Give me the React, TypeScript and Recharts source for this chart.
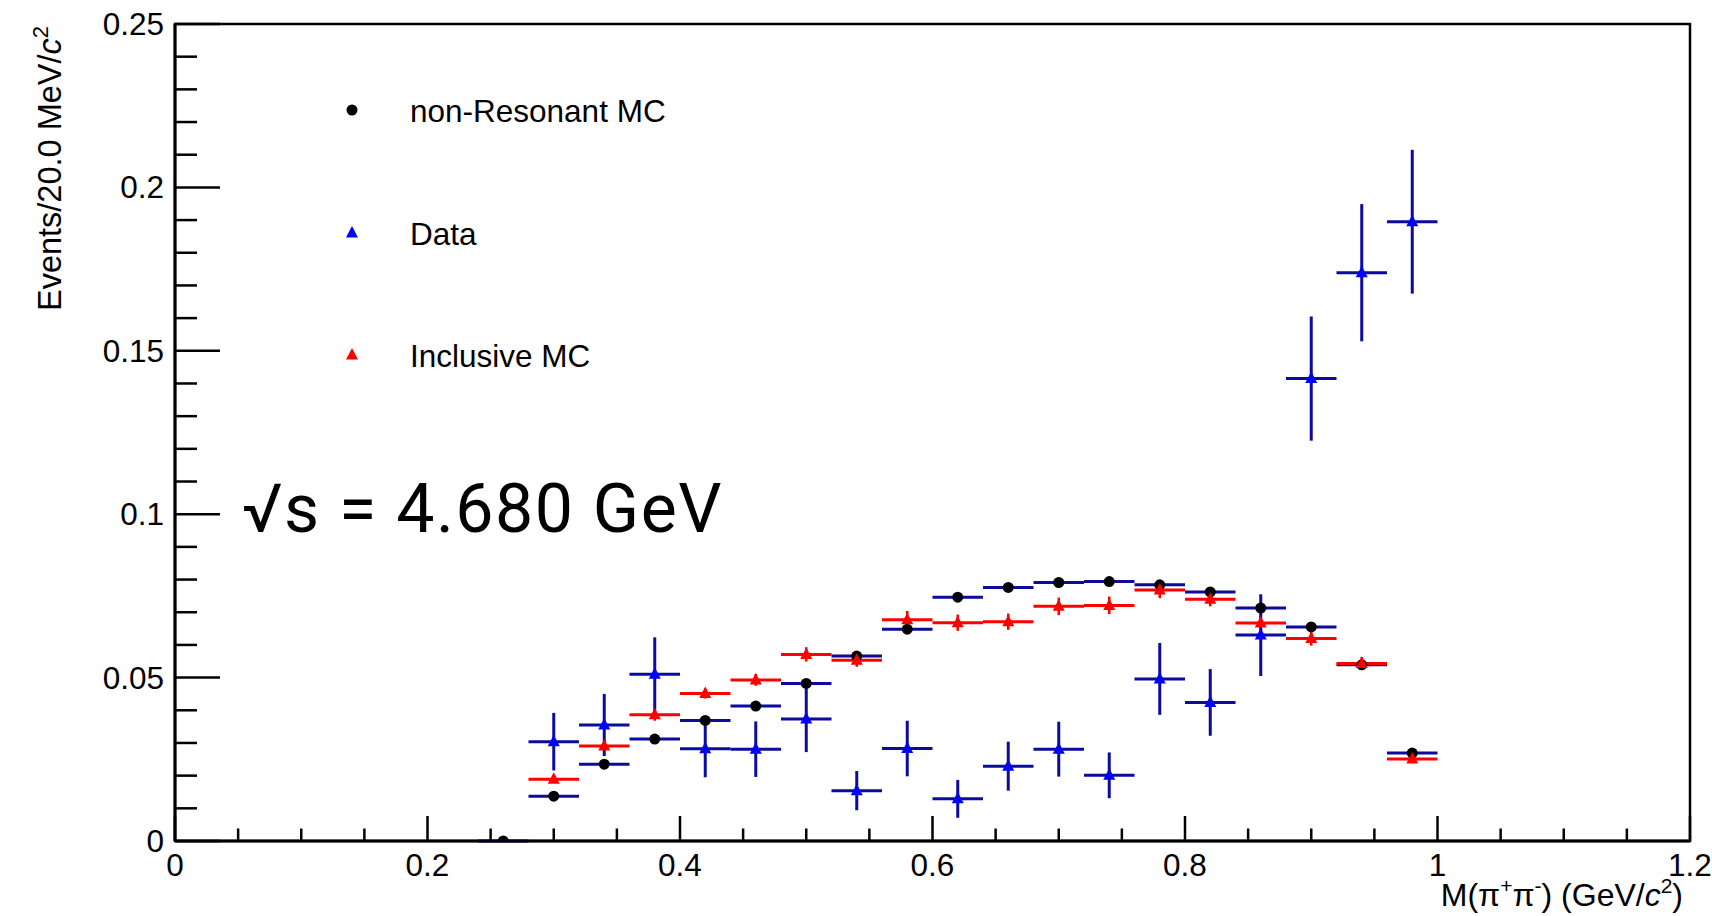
import React from 'react';
import { ComposedChart, Scatter, XAxis, YAxis, ErrorBar, ReferenceArea } from 'recharts';

// ---- data ----
const binCenters = [0.26, 0.30, 0.34, 0.38, 0.42, 0.46, 0.50, 0.54, 0.58, 0.62, 0.66, 0.70, 0.74, 0.78, 0.82, 0.86, 0.90, 0.94, 0.98];
const binHalfWidth = 0.02;
const nonResonantMC = [0, 0.0137, 0.0235, 0.0312, 0.0369, 0.0413, 0.0482, 0.0566, 0.0648, 0.0746, 0.0776, 0.0791, 0.0794, 0.0784, 0.0762, 0.0713, 0.0655, 0.0539, 0.0269];
// data and inclusive MC start at bin 0.30
const dataValues = [0.0304, 0.0355, 0.051, 0.0282, 0.0281, 0.0373, 0.0154, 0.0283, 0.0129, 0.0229, 0.0281, 0.0201, 0.0496, 0.0424, 0.063, 0.1415, 0.1739, 0.1895];
const dataErrors = [0.0088, 0.0095, 0.0113, 0.0087, 0.0085, 0.0101, 0.006, 0.0085, 0.0058, 0.0075, 0.0084, 0.007, 0.011, 0.0102, 0.0125, 0.019, 0.021, 0.022];
const inclusiveMC = [0.0189, 0.0291, 0.0386, 0.0451, 0.0493, 0.0571, 0.0553, 0.0677, 0.0668, 0.0671, 0.0718, 0.0721, 0.0768, 0.074, 0.0667, 0.062, 0.0543, 0.0251];
const inclusiveErrors = [0.001, 0.0015, 0.0018, 0.0015, 0.0018, 0.0022, 0.002, 0.0027, 0.0025, 0.0025, 0.0027, 0.0027, 0.0025, 0.0022, 0.0022, 0.0022, 0.002, 0.001];

const xTicks = [0, 0.05, 0.1, 0.15, 0.2, 0.25, 0.3, 0.35, 0.4, 0.45, 0.5, 0.55, 0.6, 0.65, 0.7, 0.75, 0.8, 0.85, 0.9, 0.95, 1, 1.05, 1.1, 1.15, 1.2];
const xMajorTicks = [0, 0.2, 0.4, 0.6, 0.8, 1, 1.2];
const xTickLabels = ['0', '0.2', '0.4', '0.6', '0.8', '1', '1.2'];
const yTicks = [0, 0.01, 0.02, 0.03, 0.04, 0.05, 0.06, 0.07, 0.08, 0.09, 0.1, 0.11, 0.12, 0.13, 0.14, 0.15, 0.16, 0.17, 0.18, 0.19, 0.2, 0.21, 0.22, 0.23, 0.24, 0.25];
const yMajorTicks = [0, 0.05, 0.1, 0.15, 0.2, 0.25];
const yTickLabels = ['0', '0.05', '0.1', '0.15', '0.2', '0.25'];

const legendLabels = ['non-Resonant MC', 'Data', 'Inclusive MC'];

const nonResSeries = binCenters.map((x, i) => ({ x, y: nonResonantMC[i], ex: binHalfWidth }));
const dataSeries = binCenters.slice(1).map((x, i) => ({ x, y: dataValues[i], ex: binHalfWidth, ey: dataErrors[i] }));
const inclSeries = binCenters.slice(1).map((x, i) => ({ x, y: inclusiveMC[i], ex: binHalfWidth, ey: inclusiveErrors[i] }));

const FONT = '"Liberation Sans", Arial, Helvetica, sans-serif';
const NAVY = '#0b0b9e';

const W = 1712;
const H = 916;

const majorIndex = (v: number, majors: number[]) => majors.findIndex((m) => Math.abs(m - v) < 1e-9);

const XTick = (props: any) => {
  const { x, y, payload } = props;
  const idx = majorIndex(payload.value, xMajorTicks);
  const len = idx >= 0 ? 25 : 12.5;
  return (
    <g>
      <line x1={x} y1={y} x2={x} y2={y - len} stroke="#000" strokeWidth={2.5} />
      {idx >= 0 && (
        <text x={x} y={y + 35} textAnchor="middle" fontFamily={FONT} fontSize={31.5} fill="#000">
          {xTickLabels[idx]}
        </text>
      )}
    </g>
  );
};

const YTick = (props: any) => {
  const { x, y, payload } = props;
  const idx = majorIndex(payload.value, yMajorTicks);
  const len = idx >= 0 ? 45 : 22;
  return (
    <g>
      <line x1={x} y1={y} x2={x + len} y2={y} stroke="#000" strokeWidth={2.5} />
      {idx >= 0 && (
        <text x={x - 11} y={y + 11} textAnchor="end" fontFamily={FONT} fontSize={31.5} fill="#000">
          {yTickLabels[idx]}
        </text>
      )}
    </g>
  );
};

const Dot = (props: any) => {
  const { cx, cy } = props;
  if (cx == null || cy == null) return null;
  return <circle cx={cx} cy={cy} r={5.5} fill="#000" />;
};

const makeTriangle = (color: string) => (props: any) => {
  const { cx, cy } = props;
  if (cx == null || cy == null) return null;
  return <polygon points={`${cx},${cy - 7} ${cx - 6},${cy + 4.5} ${cx + 6},${cy + 4.5}`} fill={color} />;
};

const BlueTri = makeTriangle('#0000ff');
const RedTri = makeTriangle('#ff0000');

export default function App() {
  return (
    <div style={{ position: 'absolute', left: 0, top: 0, width: W, height: H, background: '#fff' }}>
      <ComposedChart width={W} height={H} margin={{ top: 24, right: 22, left: 0, bottom: 0 }}>
        <XAxis
          type="number"
          dataKey="x"
          domain={[0, 1.2]}
          ticks={xTicks}
          interval={0}
          allowDataOverflow
          height={75}
          tickSize={0}
          tickMargin={0}
          tickLine={false}
          axisLine={{ stroke: '#000', strokeWidth: 3 }}
          tick={<XTick />}
        />
        <YAxis
          type="number"
          dataKey="y"
          domain={[0, 0.25]}
          ticks={yTicks}
          interval={0}
          allowDataOverflow
          width={175}
          tickSize={0}
          tickMargin={0}
          tickLine={false}
          axisLine={{ stroke: '#000', strokeWidth: 3 }}
          tick={<YTick />}
        />
        <ReferenceArea x1={0} x2={1.2} y1={0} y2={0.25} fill="none" fillOpacity={0} stroke="#000" strokeWidth={2.5} />
        <Scatter name={legendLabels[0]} data={nonResSeries} dataKey="y" shape={<Dot />} isAnimationActive={false}>
          <ErrorBar dataKey="ex" direction="x" width={0} stroke={NAVY} strokeWidth={3} isAnimationActive={false} />
        </Scatter>
        <Scatter name={legendLabels[2]} data={inclSeries} dataKey="y" shape={<RedTri />} isAnimationActive={false}>
          <ErrorBar dataKey="ex" direction="x" width={0} stroke="#ff0000" strokeWidth={3} isAnimationActive={false} />
          <ErrorBar dataKey="ey" direction="y" width={0} stroke="#ff0000" strokeWidth={2.5} isAnimationActive={false} />
        </Scatter>
        <Scatter name={legendLabels[1]} data={dataSeries} dataKey="y" shape={<BlueTri />} isAnimationActive={false}>
          <ErrorBar dataKey="ex" direction="x" width={0} stroke={NAVY} strokeWidth={3} isAnimationActive={false} />
          <ErrorBar dataKey="ey" direction="y" width={0} stroke={NAVY} strokeWidth={3} isAnimationActive={false} />
        </Scatter>
      </ComposedChart>
      <svg width={W} height={H} style={{ position: 'absolute', left: 0, top: 0, pointerEvents: 'none' }}>
        {/* legend */}
        <circle cx={352} cy={110} r={5.5} fill="#000" />
        <text x={410} y={122} fontFamily={FONT} fontSize={31.5} fill="#000">{legendLabels[0]}</text>
        <polygon points="352,226 346,237.5 358,237.5" fill="#0000ff" />
        <text x={410} y={245} fontFamily={FONT} fontSize={31.5} fill="#000">{legendLabels[1]}</text>
        <polygon points="352,348 346,359.5 358,359.5" fill="#ff0000" />
        <text x={410} y={367} fontFamily={FONT} fontSize={31.5} fill="#000">{legendLabels[2]}</text>
        {/* energy annotation */}
        <text x={242} y={532} fontFamily="Roboto, 'Liberation Sans', sans-serif" fontSize={68} letterSpacing={1.5} fill="#000">√s = 4.680 GeV</text>
        {/* y axis title */}
        <text transform="translate(61,26) rotate(-90)" textAnchor="end" fontFamily={FONT} fontSize={32.5} fill="#000">
          Events/20.0 MeV/<tspan fontStyle="italic">c</tspan>
          <tspan fontSize={22} dy={-13}>2</tspan>
        </text>
        {/* x axis title */}
        <text x={1683} y={906} textAnchor="end" fontFamily={FONT} fontSize={32} fill="#000">
          M(π<tspan fontSize={21} dy={-13}>+</tspan>
          <tspan dy={13}>π</tspan>
          <tspan fontSize={21} dy={-13}>-</tspan>
          <tspan dy={13}>) (GeV/</tspan>
          <tspan fontStyle="italic">c</tspan>
          <tspan fontSize={21} dy={-13}>2</tspan>
          <tspan dy={13}>)</tspan>
        </text>
      </svg>
    </div>
  );
}
